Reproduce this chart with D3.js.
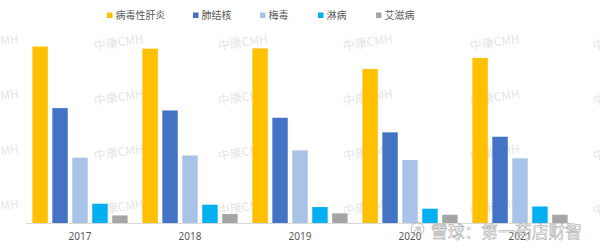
<!DOCTYPE html>
<html>
<head>
<meta charset="utf-8">
<script src="https://cdn.jsdelivr.net/npm/d3@7"></script>
<style>
  body { margin: 0; background: #fff; }
  svg { display: block; font-family: "Noto Sans CJK SC", "Noto Sans", sans-serif; }
</style>
</head>
<body>
<svg id="chart"></svg>
<script>
// data (万例)
const years = ["2017", "2018", "2019", "2020", "2021"];
const seriesNames = ["病毒性肝炎", "肺结核", "梅毒", "淋病", "艾滋病"];
const hepatitis = [128.3, 126.7, 126.9, 112.0, 120.0];
const tuberculosis = [83.5, 81.8, 76.5, 65.9, 62.7];
const syphilis = [47.5, 49.1, 52.8, 45.8, 47.0];
const gonorrhea = [14.0, 13.3, 11.6, 10.4, 12.0];
const aids = [5.5, 6.5, 7.0, 6.0, 6.0];

const colors = ["#FFC000", "#4472C4", "#A9C3E8", "#00B0F0", "#A5A5A5"];
const allSeries = [hepatitis, tuberculosis, syphilis, gonorrhea, aids];

const width = 600, height = 251;
const svg = d3.select("#chart").attr("width", width).attr("height", height);

const x0 = d3.scaleBand().domain(years).range([25, 575]).padding(0);
const x1 = d3.scaleBand().domain(seriesNames).range([0, x0.bandwidth()])
    .paddingInner(0.227).paddingOuter(0.37);
const y = d3.scaleLinear().domain([0, 140]).range([223, 30.4]);

// faint watermark grid (behind the bars)
const wm = svg.append("g").attr("pointer-events", "none");
[-31, 94, 218, 343, 470, 593].forEach(cx => {
    [46, 101, 156, 211].forEach(cy => {
        wm.append("text")
            .attr("x", cx).attr("y", cy + 4)
            .attr("font-size", 12)
            .attr("fill", "#e6e6e6")
            .attr("transform", `rotate(-8,${cx},${cy})`)
            .text("中康CMH");
    });
});

// bars
const groups = svg.append("g").selectAll("g")
    .data(years)
    .join("g")
    .attr("transform", d => `translate(${x0(d)},0)`);

groups.selectAll("rect")
    .data((d, i) => seriesNames.map((s, k) => ({ s: s, v: allSeries[k][i], c: colors[k] })))
    .join("rect")
    .attr("x", d => x1(d.s))
    .attr("y", d => y(d.v))
    .attr("width", x1.bandwidth())
    .attr("height", d => y(0) - y(d.v))
    .attr("fill", d => d.c);

// x axis
const axis = svg.append("g")
    .attr("transform", `translate(0,${y(0)})`)
    .call(d3.axisBottom(x0).tickSize(0).tickPadding(10));
axis.select(".domain").attr("stroke", "#d9d9d9");
axis.selectAll("text")
    .attr("fill", "#595959")
    .attr("font-size", 10)
    .attr("font-family", "\"Noto Sans\", sans-serif");

// legend
const legendX = [107, 193, 260, 318, 376];
const legend = svg.append("g").selectAll("g")
    .data(seriesNames)
    .join("g")
    .attr("transform", (d, i) => `translate(${legendX[i]},0)`);
legend.append("rect")
    .attr("x", 0).attr("y", 12.5)
    .attr("width", 5.5).attr("height", 5.5)
    .attr("fill", (d, i) => colors[i]);
legend.append("text")
    .attr("x", 8.5).attr("y", 18.8)
    .attr("font-size", 10)
    .attr("fill", "#595959")
    .text(d => d);

// site watermark bottom right
const sw = svg.append("g");
sw.append("circle").attr("cx", 417.5).attr("cy", 229).attr("r", 6.5)
    .attr("fill", "none").attr("stroke", "#a8a8a8").attr("stroke-width", 0.8);
sw.append("text").attr("x", 417.5).attr("y", 232).attr("text-anchor", "middle")
    .attr("font-size", 8).attr("font-style", "italic").attr("fill", "#a8a8a8").text("水");
sw.append("text")
    .attr("x", 431).attr("y", 238)
    .attr("font-size", 16.8)
    .attr("fill", "#ffffff")
    .attr("fill-opacity", 0.6)
    .attr("stroke", "#a0a0a0")
    .attr("stroke-width", 0.5)
    .text("雪球：第一药店财智");
</script>
</body>
</html>
